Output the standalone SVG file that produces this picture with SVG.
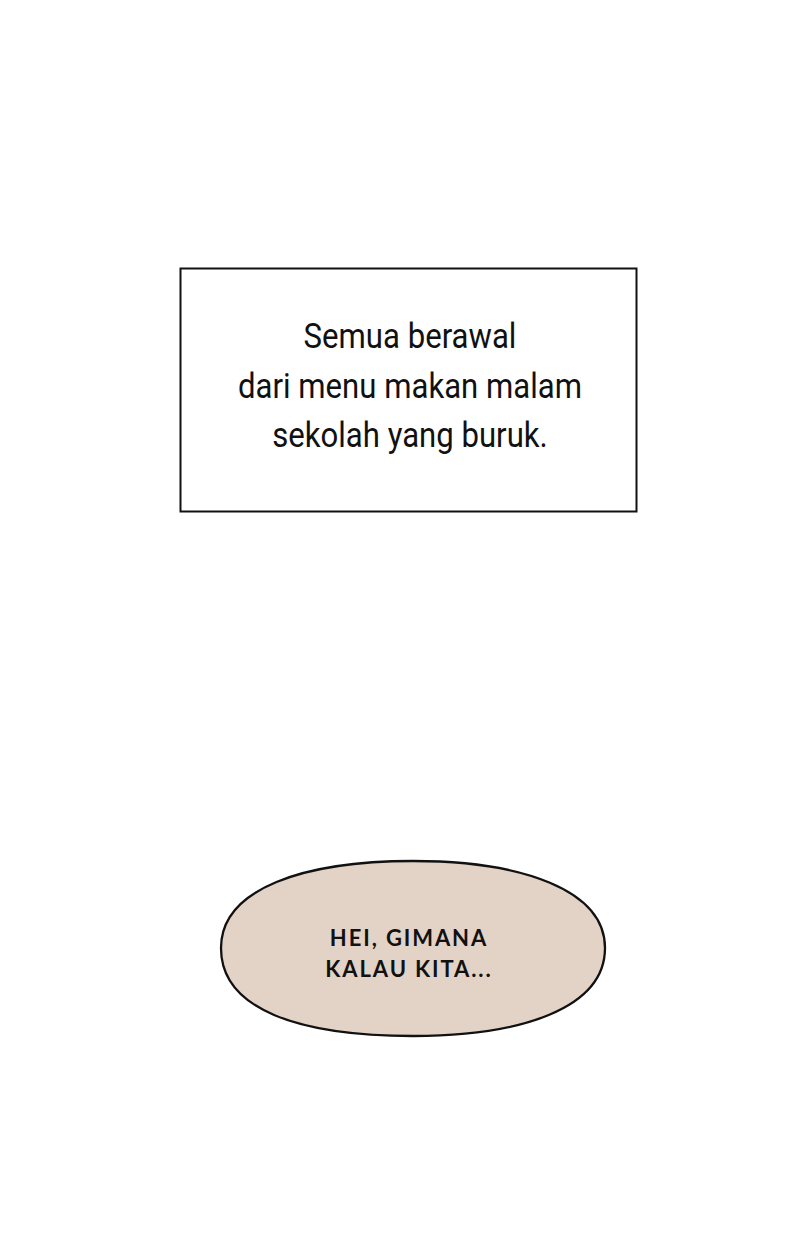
<svg xmlns="http://www.w3.org/2000/svg" width="800" height="1240" viewBox="0 0 800 1240">
<style>
.cap{font-family:Roboto,"Liberation Sans",sans-serif;font-size:36px;fill:#111;text-anchor:middle}
.bub{font-family:Lato,"Open Sans",sans-serif;font-weight:700;font-size:22px;fill:#111;text-anchor:middle;letter-spacing:1.9px}
</style>
<rect width="800" height="1240" fill="#fff"/>
<g id="caption">
<rect x="180.5" y="268.5" width="456" height="243" fill="#fff" stroke="#111" stroke-width="2"/>
<g transform="translate(410,0) scale(0.865,1)">
<text class="cap" x="0" y="348.5">Semua berawal</text>
<text class="cap" x="0" y="398">dari menu makan malam</text>
<text class="cap" x="0" y="447">sekolah yang buruk.</text>
</g>
</g>
<g id="bubble">
<path d="M413,861 C522,861 605,890 605,948 C605,1008 522,1036 413,1036 C300,1036 221,1010 221,948 C221,888 305,861 413,861 Z" fill="#e3d3c6" stroke="#111" stroke-width="2.3"/>
<text class="bub" x="409" y="946">HEI, GIMANA</text>
<text class="bub" x="409" y="977">KALAU KITA...</text>
</g>
</svg>
